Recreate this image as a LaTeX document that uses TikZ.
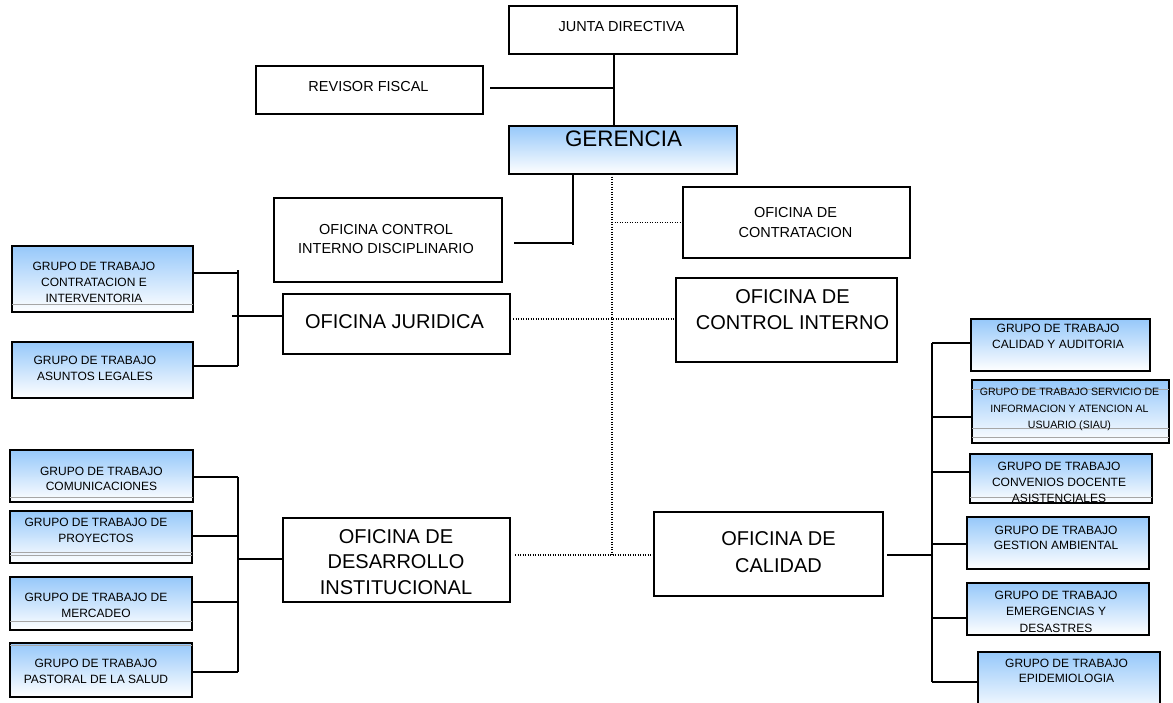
\documentclass[tikz,border=0pt]{standalone}
\usepackage{fontspec}
\setmainfont{Liberation Sans}
\definecolor{gtop}{RGB}{150,200,250}
\definecolor{gmid}{RGB}{205,228,252}
% box from its corners: name, x1, y1, x2, y2
\newcommand\orgbox[6][plainbox]{%
  \node[#1, minimum width={(#5-#3)*1pt}, minimum height={(#6-#4)*1pt}]
    (#2) at ({(#3+#5)/2},{(#4+#6)/2}) {};}
\begin{document}
\begin{tikzpicture}[x=1pt,y=-1pt,
  boxbase/.style={draw=black, line width=1.4pt, inner sep=0pt, outer sep=0pt, rectangle},
  plainbox/.style={boxbase, fill=white},
  gradbox/.style={boxbase, top color=gtop, middle color=gmid, bottom color=white},
  conn/.style={line width=1.5pt},
  dotconn/.style={line width=1.5pt, dash pattern=on 1.3pt off 1.2pt},
  innerline/.style={line width=0.6pt, draw=black!35},
  stxt/.style={align=center, inner sep=0pt, font=\fontsize{12}{16}\selectfont},
  sitxt/.style={align=center, inner sep=0pt, font=\fontsize{10.6}{16.5}\selectfont},
  mtxt/.style={align=center, inner sep=0pt, font=\fontsize{14.5}{19.5}\selectfont},
  ltxt/.style={align=center, inner sep=0pt, font=\fontsize{20}{25.5}\selectfont},
]
\useasboundingbox (0,0) rectangle (1173,702);
\clip (0,0) rectangle (1173,702);

% ---------- top level ----------
\orgbox{jd}{509}{6}{737}{54}
\node[mtxt] (jd-t) at (621.5,27) {JUNTA DIRECTIVA};
\orgbox{rf}{256}{66}{483}{114}
\node[mtxt] (rf-t) at (368.5,87) {REVISOR FISCAL};
\orgbox[gradbox]{ger}{509}{126}{737}{174}
\node[inner sep=0pt, font=\fontsize{22.4}{26}\selectfont] (ger-t) at (623.5,139) {GERENCIA};

% ---------- offices ----------
\orgbox{cid}{274}{198}{502}{282}
\node[mtxt, font=\fontsize{14.5}{19}\selectfont] (cid-t) at (386,239.5) {OFICINA CONTROL\\INTERNO DISCIPLINARIO};
\orgbox{cont}{683}{187}{910}{258}
\node[mtxt, font=\fontsize{14.5}{20}\selectfont] (cont-t) at (795.5,223) {OFICINA DE\\CONTRATACION};
\orgbox{jur}{283}{294}{510}{354}
\node[ltxt] (jur-t) at (394.5,322) {OFICINA JURIDICA};
\orgbox{ci}{676}{278}{897}{362}
\node[ltxt, font=\fontsize{20}{26}\selectfont] (ci-t) at (792.5,310) {OFICINA DE\\CONTROL INTERNO};
\orgbox{di}{283}{518}{510}{602}
\node[ltxt] (di-t) at (396,562) {OFICINA DE\\DESARROLLO\\INSTITUCIONAL};
\orgbox{cal}{654}{512}{883}{596}
\node[ltxt, font=\fontsize{20}{27.5}\selectfont] (cal-t) at (778.5,552) {OFICINA DE\\CALIDAD};

% ---------- groups of the legal office ----------
\orgbox[gradbox]{g1}{12}{246}{193}{312}
\draw[innerline] ([yshift=8pt]g1.south west) -- ([yshift=8pt]g1.south east);
\node[stxt] (g1-t) at (94,282) {GRUPO DE TRABAJO\\CONTRATACION E\\INTERVENTORIA};
\orgbox[gradbox]{g2}{12}{342}{193}{398}
\node[stxt] (g2-t) at (95,368) {GRUPO DE TRABAJO\\ASUNTOS LEGALES};

% ---------- groups of institutional development ----------
\orgbox[gradbox]{g3}{10}{450}{193}{502}
\draw[innerline] ([yshift=5pt]g3.south west) -- ([yshift=5pt]g3.south east);
\node[stxt, font=\fontsize{12}{15}\selectfont] (g3-t) at (101.5,478.5) {GRUPO DE TRABAJO\\COMUNICACIONES};
\orgbox[gradbox]{g4}{10}{511}{192}{563}
\draw[innerline] ([yshift=11pt]g4.south west) -- ([yshift=11pt]g4.south east);
\draw[innerline] ([yshift=8pt]g4.south west) -- ([yshift=8pt]g4.south east);
\node[stxt] (g4-t) at (96,530) {GRUPO DE TRABAJO DE\\PROYECTOS};
\orgbox[gradbox]{g5}{10}{577}{192}{630}
\draw[innerline] ([yshift=9pt]g5.south west) -- ([yshift=9pt]g5.south east);
\node[stxt, font=\fontsize{12}{15.5}\selectfont] (g5-t) at (96,605.5) {GRUPO DE TRABAJO DE\\MERCADEO};
\orgbox[gradbox]{g6}{10}{643}{192}{697}
\draw[innerline] ([yshift=-2.5pt]g6.north west) -- ([yshift=-2.5pt]g6.north east);
\node[stxt] (g6-t) at (96,671) {GRUPO DE TRABAJO\\PASTORAL DE LA SALUD};

% ---------- groups of the quality office ----------
\orgbox[gradbox]{r1}{971}{319}{1150}{371}
\node[stxt] (r1-t) at (1058,336) {GRUPO DE TRABAJO\\CALIDAD Y AUDITORIA};
\orgbox[gradbox, line width=2pt]{r2}{972}{380}{1169}{443}
\draw[innerline] ([yshift=-9pt]r2.north west) -- ([yshift=-9pt]r2.north east);
\draw[innerline] ([yshift=15pt]r2.south west) -- ([yshift=15pt]r2.south east);
\draw[innerline] ([yshift=6pt]r2.south west) -- ([yshift=6pt]r2.south east);
\node[sitxt] (r2-t) at (1069.5,409.5) {GRUPO DE TRABAJO SERVICIO DE\\INFORMACION Y ATENCION AL\\USUARIO (SIAU)};
\orgbox[gradbox]{r3}{970}{454}{1152}{503}
\draw[innerline] ([yshift=6pt]r3.south west) -- ([yshift=6pt]r3.south east);
\node[stxt] (r3-t) at (1059,482) {GRUPO DE TRABAJO\\CONVENIOS DOCENTE\\ASISTENCIALES};
\orgbox[gradbox]{r4}{967}{517}{1149}{569}
\node[stxt, font=\fontsize{12}{15}\selectfont] (r4-t) at (1056,537.5) {GRUPO DE TRABAJO\\GESTION AMBIENTAL};
\orgbox[gradbox]{r5}{967}{583}{1149}{635}
\node[stxt, font=\fontsize{12}{16.5}\selectfont] (r5-t) at (1056,611.5) {GRUPO DE TRABAJO\\EMERGENCIAS Y\\DESASTRES};
\orgbox[gradbox]{r6}{978}{652}{1160}{714}
\node[stxt, font=\fontsize{12}{15}\selectfont] (r6-t) at (1066.5,670.5) {GRUPO DE TRABAJO\\EPIDEMIOLOGIA};

% ---------- solid connectors ----------
\coordinate (jx) at (614,88);
\coordinate (rfend) at (490,88);
\draw[conn] (jd.south -| jx) -- (ger.north -| jx);
\draw[conn] (rfend) -- (jx);

\coordinate (gs) at (573,245);
\coordinate (cidend) at (514,243);
\draw[conn] (ger.south -| gs) -- (gs);
\draw[conn] (cidend) -- (cidend -| gs);

% legal office bracket
\coordinate (lj-top) at (238,270);
\coordinate (lj-b1) at (238,273);
\coordinate (lj-b2) at (238,366);
\coordinate (lj-in) at (232,316);
\draw[conn] (lj-top) -- (lj-b2);
\draw[conn] (lj-b1 -| g1.east) -- (lj-b1);
\draw[conn] (lj-b2 -| g2.east) -- (lj-b2);
\draw[conn] (lj-in) -- (lj-in -| jur.west);

% institutional development bracket
\coordinate (ld-b3) at (238,477);
\coordinate (ld-b4) at (238,536);
\coordinate (ld-b5) at (238,602);
\coordinate (ld-b6) at (238,672);
\coordinate (ld-in) at (238,559);
\draw[conn] (ld-b3) -- (ld-b6);
\draw[conn] (ld-b3 -| g3.east) -- (ld-b3);
\draw[conn] (ld-b4 -| g4.east) -- (ld-b4);
\draw[conn] (ld-b5 -| g5.east) -- (ld-b5);
\draw[conn] (ld-b6 -| g6.east) -- (ld-b6);
\draw[conn] (ld-in) -- (ld-in -| di.west);

% quality office bracket
\coordinate (rq-b1) at (932,343);
\coordinate (rq-b2) at (932,417);
\coordinate (rq-b3) at (932,472);
\coordinate (rq-b4) at (932,544);
\coordinate (rq-b5) at (932,618);
\coordinate (rq-b6) at (932,682);
\coordinate (rq-in) at (932,555);
\coordinate (calend) at (887,555);
\draw[conn] (rq-b1) -- (rq-b6);
\draw[conn] (rq-b1) -- (rq-b1 -| r1.west);
\draw[conn] (rq-b2) -- (rq-b2 -| r2.west);
\draw[conn] (rq-b3) -- (rq-b3 -| r3.west);
\draw[conn] (rq-b4) -- (rq-b4 -| r4.west);
\draw[conn] (rq-b5) -- (rq-b5 -| r5.west);
\draw[conn] (rq-b6) -- (rq-b6 -| r6.west);
\draw[conn] (calend) -- (rq-in);

% ---------- dotted (staff) connectors ----------
\coordinate (dx) at (612,555);
\coordinate (d2) at (612,319);
\coordinate (jurend) at (513,319);
\coordinate (diend) at (515,555);
\draw[dotconn] (ger.south -| dx) -- (dx);
\draw[dotconn] (cont.west -| dx) -- (cont.west);
\draw[dotconn] (jurend) -- (d2 -| ci.west);
\draw[dotconn] (diend) -- (dx -| cal.west);
\end{tikzpicture}
\end{document}
